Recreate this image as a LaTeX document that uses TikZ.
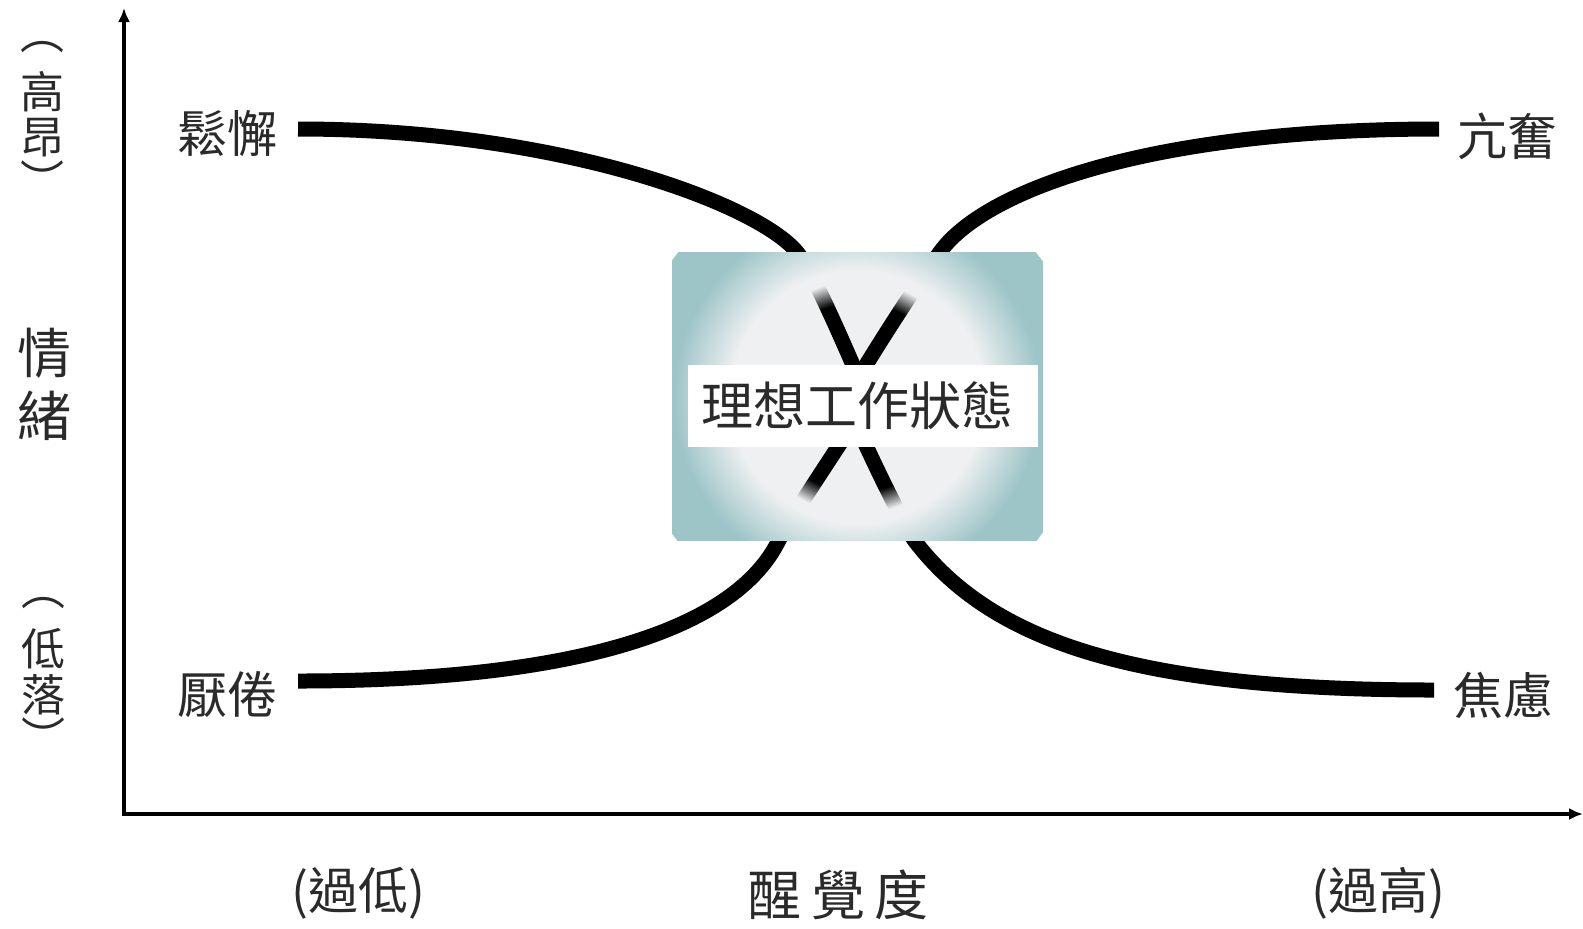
\documentclass[tikz,border=0pt]{standalone}
\usepackage{fontspec}
\setmainfont{Noto Sans CJK TC}
\usetikzlibrary{arrows.meta,fadings}
\definecolor{txt}{HTML}{2A2A2A}
\definecolor{cgray}{HTML}{EEF0F1}
\definecolor{tdark}{HTML}{9DC4C7}
\definecolor{tlight}{HTML}{B5DFE2}
\tikzset{
  lbl/.style={font=\fontsize{25pt}{25pt}\selectfont, text=txt, inner sep=0pt},
  small/.style={lbl, font=\fontsize{22pt}{22pt}\selectfont},
  curve/.style={line width=7.5pt, black},
  axis/.style={line width=2pt, black, {Latex[length=7pt,width=6pt]}-{Latex[length=7pt,width=6pt]}},
  pathA/.style={insert path={(a0) .. controls (560,129) and (757,204) .. (797,252) .. controls (812,270) and (840,335) .. (866,395)}},
  pathB/.style={insert path={(b0) .. controls (1150,129) and (985,190) .. (940,252) .. controls (927,270) and (885,332) .. (848,395)}},
  pathC/.style={insert path={(c0) .. controls (575,681) and (735,630) .. (779,540) .. controls (790,518) and (850,430) .. (868,400)}},
  pathD/.style={insert path={(d0) .. controls (1130,690) and (990,640) .. (914,540) .. controls (903,524) and (862,440) .. (846,400)}}
}
\begin{document}
\pgfdeclareradialshading{boxshade}{\pgfpointorigin}{color(0bp)=(cgray); color(13.8bp)=(cgray); color(20bp)=(tdark); color(25.4bp)=(tdark); color(36bp)=(tlight); color(50bp)=(tlight)}
\pgfdeclareradialshading{xfadeshade}{\pgfpointorigin}{color(0bp)=(white); color(47bp)=(white); color(58bp)=(black); color(150bp)=(black)}
\pgfdeclarefading{xfade}{\pgfuseshading{xfadeshade}}
\begin{tikzpicture}[x=0.5pt,y=-0.5pt]
\useasboundingbox (0,0) rectangle (1583,928);
% axes
\coordinate (ytop) at (124,8);
\coordinate (O) at (124,814);
\coordinate (xend) at (1583,814);
\draw[axis] (ytop) -- (O) -- (xend);
% curve ends
\coordinate (a0) at (298,129);
\coordinate (b0) at (1439,129);
\coordinate (c0) at (298,681);
\coordinate (d0) at (1434,690);
\draw[curve, pathA];
\draw[curve, pathB];
\draw[curve, pathC];
\draw[curve, pathD];
% central box
\coordinate (ctr) at (857,397);
\begin{scope}
\clip (672,252) rectangle (1043,540);
\shade[shading=boxshade] (ctr) circle[radius=230];
\end{scope}
\begin{scope}
\pgfsetfading{xfade}{\pgftransformshift{\pgfpointxy{857}{397}}}
\draw[curve, pathA];
\draw[curve, pathB];
\draw[curve, pathC];
\draw[curve, pathD];
\end{scope}
\node[fill=white, minimum width=175pt, minimum height=41pt, inner sep=0pt] (ideal) at (863,406) {};
\node[lbl, font=\fontsize{26pt}{26pt}\selectfont] (idealtxt) at (857,406) {理想工作狀態};
% labels
\node[lbl] (relax) at (227,134) {鬆懈};
\node[lbl] (excite) at (1507,136) {亢奮};
\node[lbl] (bored) at (227,695) {厭倦};
\node[lbl] (anx) at (1503,695) {焦慮};
% y axis labels
\node[lbl, font=\fontsize{27pt}{27pt}\selectfont] (qing) at (45,353) {情};
\node[lbl, font=\fontsize{27pt}{27pt}\selectfont] (xu) at (45,416) {緒};
\node[small] (hp1) at (42,47) {︵};
\node[small] (gao) at (42,92) {高};
\node[small] (ang) at (42,138) {昂};
\node[small] (hp2) at (42,179) {︶};
\node[small] (lp1) at (43,603) {︵};
\node[small] (di) at (43,649) {低};
\node[small] (luo) at (43,695) {落};
\node[small] (lp2) at (43,736) {︶};
% x axis labels
\node[lbl] (lowx) at (358,893) {(過低)};
\node[lbl, font=\fontsize{27pt}{27pt}\selectfont] (xlab) at (838,895) {醒\hspace{5pt}覺\hspace{5pt}度};
\node[lbl] (highx) at (1378,893) {(過高)};
\end{tikzpicture}
\end{document}
